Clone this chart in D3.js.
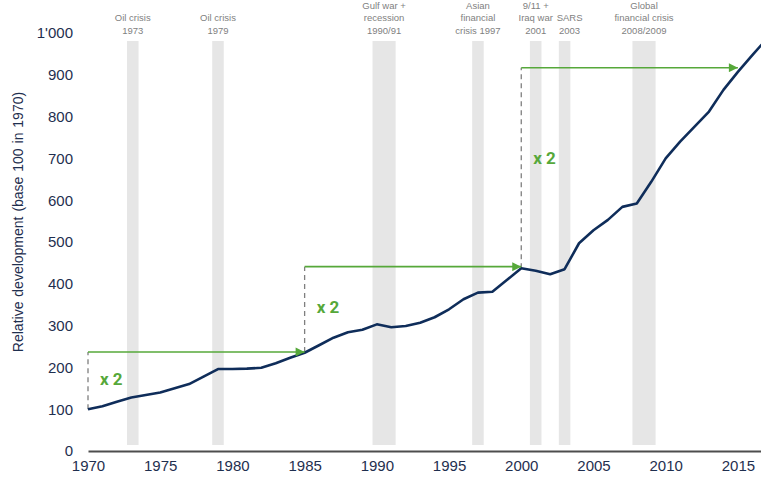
<!DOCTYPE html>
<html>
<head>
<meta charset="utf-8">
<script src="https://cdn.jsdelivr.net/npm/d3@7"></script>
<style>
    body { margin: 0; background: #fff; }
    text { font-family: "Liberation Sans", Arial, sans-serif; }
</style>
</head>
<body>
<div id="chart"></div>
<script>
// values
let years = [1970, 1971, 1972, 1973, 1974, 1975, 1976, 1977, 1978, 1979,
    1980, 1981, 1982, 1983, 1984, 1985, 1986, 1987, 1988, 1989,
    1990, 1991, 1992, 1993, 1994, 1995, 1996, 1997, 1998, 1999,
    2000, 2001, 2002, 2003, 2004, 2005, 2006, 2007, 2008, 2009,
    2010, 2011, 2012, 2013, 2014, 2015, 2016, 2017];
let values = [100, 107, 118, 128, 134, 140, 150, 160, 178, 196,
    196, 197, 199, 210, 223, 235, 253, 271, 284, 290,
    303, 296, 299, 307, 320, 339, 363, 379, 381, 409,
    437, 431, 423, 435, 497, 528, 553, 584, 592, 644,
    700, 740, 776, 812, 864, 907, 947, 986];

let xTicks = [1970, 1975, 1980, 1985, 1990, 1995, 2000, 2005, 2010, 2015];
let yTicks = [0, 100, 200, 300, 400, 500, 600, 700, 800, 900, 1000];

// crisis periods: start, end, label lines
let crisisStart = [1972.7, 1978.6, 1989.7, 1996.6, 2000.6, 2002.6, 2007.7];
let crisisEnd = [1973.5, 1979.4, 1991.3, 1997.4, 2001.4, 2003.4, 2009.3];
let crisisLabels = [
    ["", "Oil crisis", "1973"],
    ["", "Oil crisis", "1979"],
    ["Gulf war +", "recession", "1990/91"],
    ["Asian", "financial", "crisis 1997"],
    ["9/11 +", "Iraq war", "2001"],
    ["", "SARS", "2003"],
    ["Global", "financial crisis", "2008/2009"]
];

// doubling arrows: from year, to year, level, and where the "x 2" sits
let doubleFrom = [1970, 1985, 2000];
let doubleTo = [1985, 2000, 2015];
let doubleLevel = [237, 441, 917];
let doubleBase = [100, 237, 437];
let doubleLabelLevel = [158, 330, 687];

let width = 761, height = 478;

let x = d3.scaleLinear().domain([1970, 2016.6]).range([88, 761]);
let y = d3.scaleLinear().domain([0, 1000]).range([451, 33]);

let svg = d3.select("#chart").append("svg")
    .attr("width", width)
    .attr("height", height);

let green = "#56a83a";
let navy = "#0f2d5a";
let tickColor = "#1f2f4f";

svg.append("defs").append("marker")
    .attr("id", "arrow")
    .attr("viewBox", "0 0 10 10")
    .attr("refX", 10)
    .attr("refY", 5)
    .attr("markerWidth", 11)
    .attr("markerHeight", 9)
    .attr("markerUnits", "userSpaceOnUse")
    .attr("orient", "auto")
    .append("path")
    .attr("d", "M0,0L10,5L0,10Z")
    .attr("fill", green);

// gray crisis bars
svg.selectAll(".crisis")
    .data(crisisStart)
    .enter()
    .append("rect")
    .attr("class", "crisis")
    .attr("x", function(d) { return x(d); })
    .attr("width", function(d, i) { return x(crisisEnd[i]) - x(d); })
    .attr("y", 41)
    .attr("height", 404)
    .attr("fill", "#e6e6e6");

// crisis labels
crisisLabels.forEach(function(lines, i) {
    let cx = (x(crisisStart[i]) + x(crisisEnd[i])) / 2;
    if (i == 5) cx += 5;
    let t = svg.append("text")
        .attr("text-anchor", "middle")
        .attr("fill", "#7f7f7f")
        .style("font-size", "9.5px");
    lines.forEach(function(l, j) {
        if (l == "") return;
        t.append("tspan")
            .attr("x", cx)
            .attr("y", 8.5 + j * 12.5)
            .text(l);
    });
});

// x axis
let xAxis = svg.append("g")
    .attr("transform", "translate(0," + y(0) + ")")
    .call(d3.axisBottom(x).tickValues(xTicks).tickSize(0).tickPadding(9).tickFormat(d3.format("d")));
xAxis.select(".domain").attr("stroke", "#4d4d4d").attr("stroke-width", 2);
xAxis.selectAll("text").attr("fill", tickColor).style("font-size", "15px");

// y axis
let yAxis = svg.append("g")
    .attr("transform", "translate(88,0)")
    .call(d3.axisLeft(y).tickValues(yTicks).tickSize(0).tickPadding(15)
        .tickFormat(function(d) { return d == 1000 ? "1'000" : d; }));
yAxis.select(".domain").remove();
yAxis.selectAll("text").attr("fill", tickColor).style("font-size", "15px");

svg.append("text")
    .attr("transform", "translate(23,222) rotate(-90)")
    .attr("text-anchor", "middle")
    .attr("fill", tickColor)
    .style("font-size", "14px")
    .style("word-spacing", "1px")
    .text("Relative development (base 100 in 1970)");

// dashed verticals
svg.selectAll(".dash")
    .data(doubleFrom)
    .enter()
    .append("line")
    .attr("x1", function(d) { return x(d); })
    .attr("x2", function(d) { return x(d); })
    .attr("y1", function(d, i) { return y(doubleBase[i]); })
    .attr("y2", function(d, i) { return y(doubleLevel[i]); })
    .attr("stroke", "#7f7f7f")
    .attr("stroke-width", 1.3)
    .attr("stroke-dasharray", "5,4");

// the series line
let line = d3.line()
    .x(function(d, i) { return x(years[i]); })
    .y(function(d) { return y(d); });

svg.append("path")
    .datum(values)
    .attr("d", line)
    .attr("fill", "none")
    .attr("stroke", navy)
    .attr("stroke-width", 2.6)
    .attr("stroke-linejoin", "round");

// green arrows
svg.selectAll(".arrow")
    .data(doubleFrom)
    .enter()
    .append("line")
    .attr("x1", function(d) { return x(d); })
    .attr("x2", function(d, i) { return x(doubleTo[i]); })
    .attr("y1", function(d, i) { return y(doubleLevel[i]); })
    .attr("y2", function(d, i) { return y(doubleLevel[i]); })
    .attr("stroke", green)
    .attr("stroke-width", 1.6)
    .attr("marker-end", "url(#arrow)");

// x 2 labels
svg.selectAll(".times")
    .data(doubleFrom)
    .enter()
    .append("text")
    .attr("x", function(d) { return x(d) + 12; })
    .attr("y", function(d, i) { return y(doubleLabelLevel[i]); })
    .attr("fill", green)
    .style("font-family", "Roboto, sans-serif")
    .style("font-weight", "bold")
    .style("font-size", "17px")
    .text("x 2");
</script>
</body>
</html>
